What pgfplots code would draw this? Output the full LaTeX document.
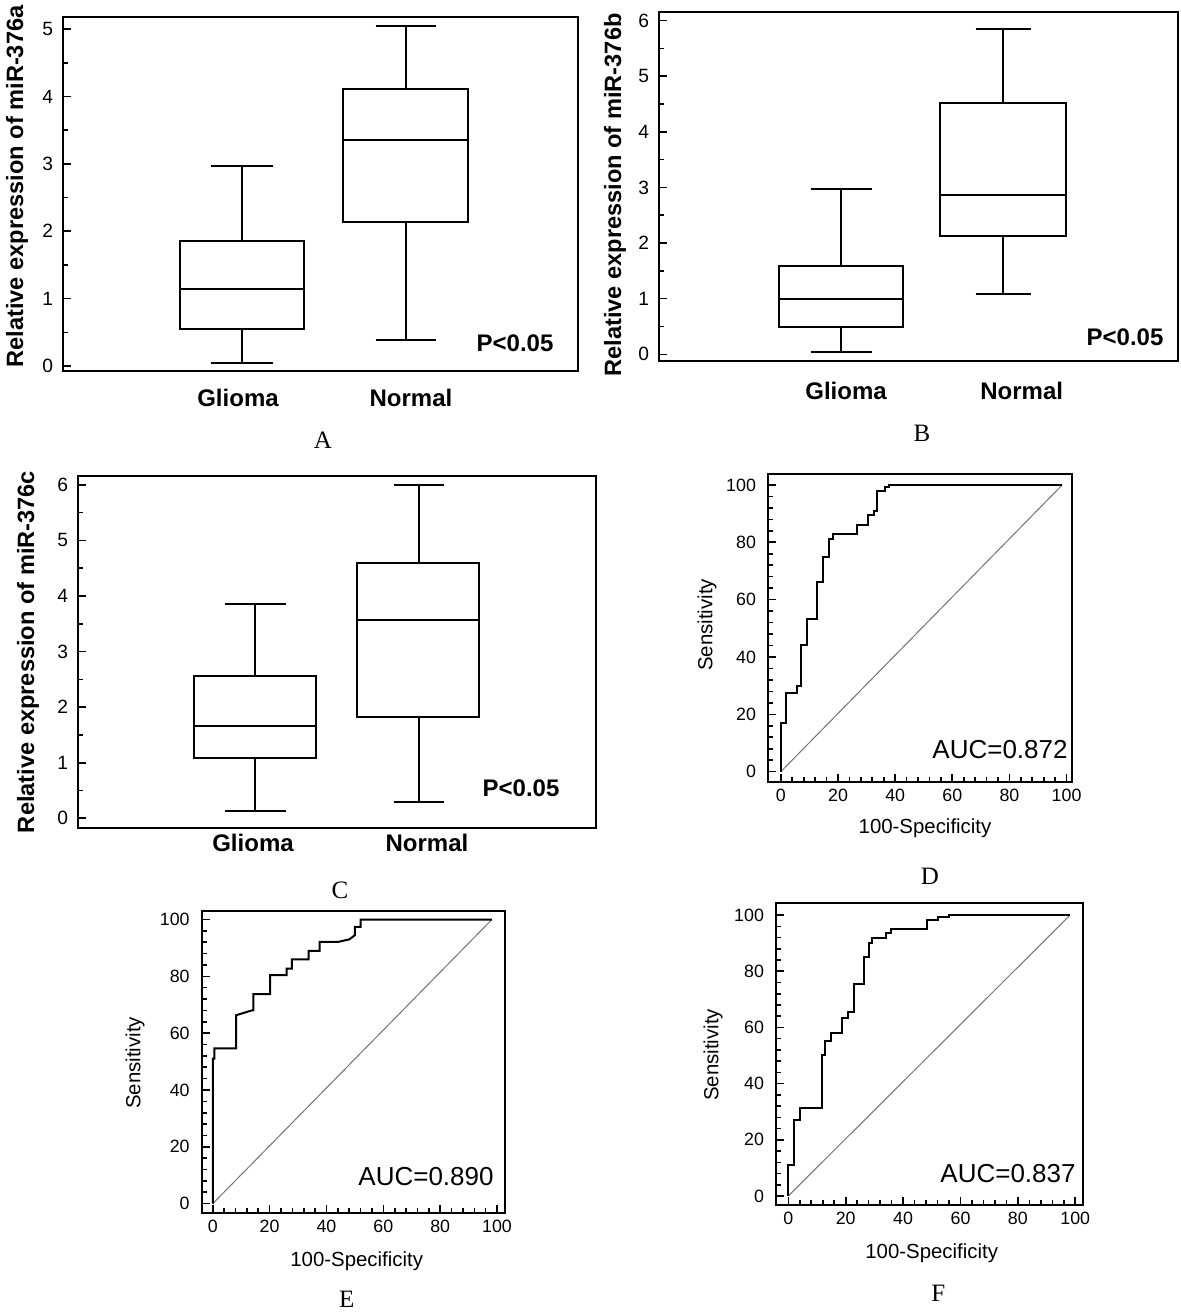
\documentclass[border=0pt]{standalone}
\usepackage{fontspec}
\setmainfont{Liberation Sans}
\newfontfamily\seriffont{Liberation Serif}
\usepackage{pgfplots}
\pgfplotsset{compat=1.18}

\pgfplotsset{
  common/.style={
    scale only axis, anchor=south west,
    axis line style={line width=1pt},
    tick align=inside, tick pos=left,
    major tick length=4pt, minor tick length=2.5pt,
    every tick/.style={line width=0.8pt, black},
    /pgf/number format/assume math mode=true,
    unbounded coords=jump,
  },
  boxax/.style={common,
    xtick=\empty, minor y tick num=1,
    yticklabel style={font=\fontsize{9.6}{11}\selectfont, xshift=-1.5pt},
  },
  rocax/.style={common,
    xtick={0,20,...,100}, ytick={0,20,...,100}, minor tick num=4,
    ticklabel style={font=\fontsize{8.9}{10}\selectfont},
    yticklabel style={xshift=-2.5pt},
  },
  bp/.style={black, line width=1pt, solid, no marks, line join=miter},
  roc/.style={black, line width=1pt, no marks},
  diag/.style={black!55, line width=0.5pt, no marks},
}
\newcommand\lbl{\fontsize{12}{14}\selectfont\bfseries}
\newcommand\ylbl{\fontsize{11.8}{14}\selectfont\bfseries}
\newcommand\pan{\seriffont\fontsize{12.5}{14}\selectfont}
\newcommand\auc{\fontsize{13}{15}\selectfont}
\newcommand\rl{\fontsize{10.2}{12}\selectfont}

\begin{document}
\begin{tikzpicture}
\path[use as bounding box] (0,0) rectangle (590pt,656.5pt);

% ---------- A ----------
% Glioma: min 0.04, Q1 0.55, median 1.15, Q3 1.85, max 2.965
% Normal: min 0.385, Q1 2.135, median 3.35, Q3 4.115, max 5.05
\begin{axis}[boxax, at={(31.5pt,471pt)}, width=257.5pt, height=177pt,
  xmin=0, xmax=515, ymin=-0.074, ymax=5.18, ytick={0,1,2,3,4,5}]
\addplot[bp] coordinates {(117,0.55)(241,0.55)(241,1.85)(117,1.85)(117,0.55)(241,0.55) (nan,nan)
  (117,1.15)(241,1.15) (nan,nan) (179,1.85)(179,2.965) (nan,nan) (148,2.965)(210,2.965) (nan,nan)
  (179,0.55)(179,0.04) (nan,nan) (148,0.04)(210,0.04)};
\addplot[bp] coordinates {(280,2.135)(405,2.135)(405,4.115)(280,4.115)(280,2.135)(405,2.135) (nan,nan)
  (280,3.35)(405,3.35) (nan,nan) (342.5,4.115)(342.5,5.05) (nan,nan) (312.5,5.05)(372.5,5.05) (nan,nan)
  (342.5,2.135)(342.5,0.385) (nan,nan) (312.5,0.385)(372.5,0.385)};
\end{axis}

% ---------- B ----------
\begin{axis}[boxax, at={(329.5pt,476pt)}, width=259.5pt, height=174.65pt,
  xmin=0, xmax=519, ymin=-0.12, ymax=6.16, ytick={0,1,2,3,4,5,6}]
\addplot[bp] coordinates {(119.7,0.486)(244.4,0.486)(244.4,1.595)(119.7,1.595)(119.7,0.486)(244.4,0.486) (nan,nan)
  (119.7,0.99)(244.4,0.99) (nan,nan) (182,1.595)(182,2.97) (nan,nan) (151.5,2.97)(212.5,2.97) (nan,nan)
  (182,0.486)(182,0.05) (nan,nan) (151.5,0.05)(212.5,0.05)};
\addplot[bp] coordinates {(281.4,2.134)(407.1,2.134)(407.1,4.514)(281.4,4.514)(281.4,2.134)(407.1,2.134) (nan,nan)
  (281.4,2.866)(407.1,2.866) (nan,nan) (344.3,4.514)(344.3,5.845) (nan,nan) (316.5,5.845)(372,5.845) (nan,nan)
  (344.3,2.134)(344.3,1.085) (nan,nan) (316.5,1.085)(372,1.085)};
\end{axis}

% ---------- C ----------
\begin{axis}[boxax, at={(39pt,242.35pt)}, width=259pt, height=176.15pt,
  xmin=0, xmax=518, ymin=-0.18, ymax=6.16, ytick={0,1,2,3,4,5,6}]
\addplot[bp] coordinates {(116,1.086)(238,1.086)(238,2.563)(116,2.563)(116,1.086)(238,1.086) (nan,nan)
  (116,1.659)(238,1.659) (nan,nan) (177,2.563)(177,3.854) (nan,nan) (146.5,3.854)(207.5,3.854) (nan,nan)
  (177,1.086)(177,0.139) (nan,nan) (146.5,0.139)(207.5,0.139)};
\addplot[bp] coordinates {(279,1.821)(401.4,1.821)(401.4,4.596)(279,4.596)(279,1.821)(401.4,1.821) (nan,nan)
  (279,3.571)(401.4,3.571) (nan,nan) (341,4.596)(341,6.0) (nan,nan) (316,6.0)(366,6.0) (nan,nan)
  (341,1.821)(341,0.30) (nan,nan) (316,0.30)(366,0.30)};
\end{axis}

% ---------- D ----------
\begin{axis}[rocax, at={(384pt,265.5pt)}, width=152pt, height=154pt,
  xmin=-4.5, xmax=101.9, ymin=-3.6, ymax=103.8]
\addplot[diag] coordinates {(0,0) (98.5,100)};
\addplot[roc] coordinates {(0,0)(0,17)(1.75,17)(1.75,27.4)(5.6,27.4)(5.6,30)(7.2,30)(7.2,44)(9.1,44)(9.1,53.3)(12.8,53.3)(12.8,66.2)(14.9,66.2)(14.9,75)(16.9,75)(16.9,81)(18.4,81)(18.4,83)(26.8,83)(26.8,86)(30.5,86)(30.5,89.6)(32.6,89.6)(32.6,91)(33.8,91)(33.8,98)(36.5,98)(36.5,99.2)(37.9,99.2)(37.9,100)(98.5,100)};
\end{axis}

% ---------- E ----------
\begin{axis}[rocax, at={(100.85pt,50pt)}, width=151.65pt, height=151.15pt,
  xmin=-3.9, xmax=102.8, ymin=-3.3, ymax=103.1]
\addplot[diag] coordinates {(0,0) (98.2,100)};
\addplot[roc] coordinates {(0,0)(0,51)(0.6,51)(0.6,54.6)(8.2,54.6)(8.2,66.3)(13.7,68)(14.3,68)(14.3,73.7)(20.2,73.7)(20.2,80.4)(26,80.4)(26,82.7)(27.8,82.7)(27.8,86)(33.7,86)(33.7,89)(37.6,89)(37.6,92.1)(44,92.1)(48,93)(50,94.5)(50,97.4)(52,97.4)(52,100)(98.2,100)};
\end{axis}

% ---------- F ----------
\begin{axis}[rocax, at={(388pt,54pt)}, width=153.65pt, height=150.85pt,
  xmin=-4.3, xmax=102.8, ymin=-3.2, ymax=104.2]
\addplot[diag] coordinates {(0,0) (98.2,100)};
\addplot[roc] coordinates {(0,0)(0,11)(2,11)(2,27)(3.9,27)(3.9,31.2)(11.7,31.2)(11.7,50.2)(12.9,50.2)(12.9,55.3)(14.9,55.3)(14.9,58.1)(18.7,58.1)(18.7,63.2)(20.7,63.2)(20.7,65.6)(22.8,65.6)(22.8,75.4)(26.5,75.4)(26.5,85.2)(28,85.2)(28,89.9)(29.2,89.9)(29.2,92)(33.9,92)(33.9,93.7)(35.9,93.7)(35.9,94.9)(48.3,94.9)(48.3,98.2)(52,98.2)(52,99.4)(56.1,99.4)(56.1,100)(98.2,100)};
\end{axis}

% ---------- texts ----------
\node[rotate=90, font=\ylbl] at (8.5pt,563.25pt) {Relative expression of miR-376a};
\node[rotate=90, font=\ylbl] at (307.5pt,559pt) {Relative expression of miR-376b};
\node[rotate=90, font=\ylbl] at (14pt,330.5pt) {Relative expression of miR-376c};
\node[font=\lbl] at (119pt,457.5pt) {Glioma};
\node[font=\lbl] at (205.5pt,457.5pt) {Normal};
\node[font=\lbl] at (423pt,461pt) {Glioma};
\node[font=\lbl] at (510.85pt,461pt) {Normal};
\node[font=\lbl] at (126.5pt,235pt) {Glioma};
\node[font=\lbl] at (213.5pt,235pt) {Normal};
\node[font=\lbl] at (257.5pt,485pt) {P<0.05};
\node[font=\lbl] at (562.5pt,488pt) {P<0.05};
\node[font=\lbl] at (260.5pt,262.5pt) {P<0.05};
\node[rotate=90, font=\rl] at (353.5pt,344pt) {Sensitivity};
\node[rotate=90, font=\rl] at (67.5pt,125pt) {Sensitivity};
\node[rotate=90, font=\rl] at (356.5pt,129pt) {Sensitivity};
\node[font=\rl] at (462.5pt,242.5pt) {100-Specificity};
\node[font=\rl] at (178.35pt,25.65pt) {100-Specificity};
\node[font=\rl] at (465.85pt,29.85pt) {100-Specificity};
\node[font=\auc] at (500pt,281.5pt) {AUC=0.872};
\node[font=\auc] at (213pt,68pt) {AUC=0.890};
\node[font=\auc] at (504pt,69.5pt) {AUC=0.837};
\node[font=\pan] at (161.5pt,436.5pt) {A};
\node[font=\pan] at (461pt,440pt) {B};
\node[font=\pan] at (170pt,211.5pt) {C};
\node[font=\pan] at (465pt,218.5pt) {D};
\node[font=\pan] at (173.35pt,7pt) {E};
\node[font=\pan] at (469.15pt,10pt) {F};
\end{tikzpicture}
\end{document}
